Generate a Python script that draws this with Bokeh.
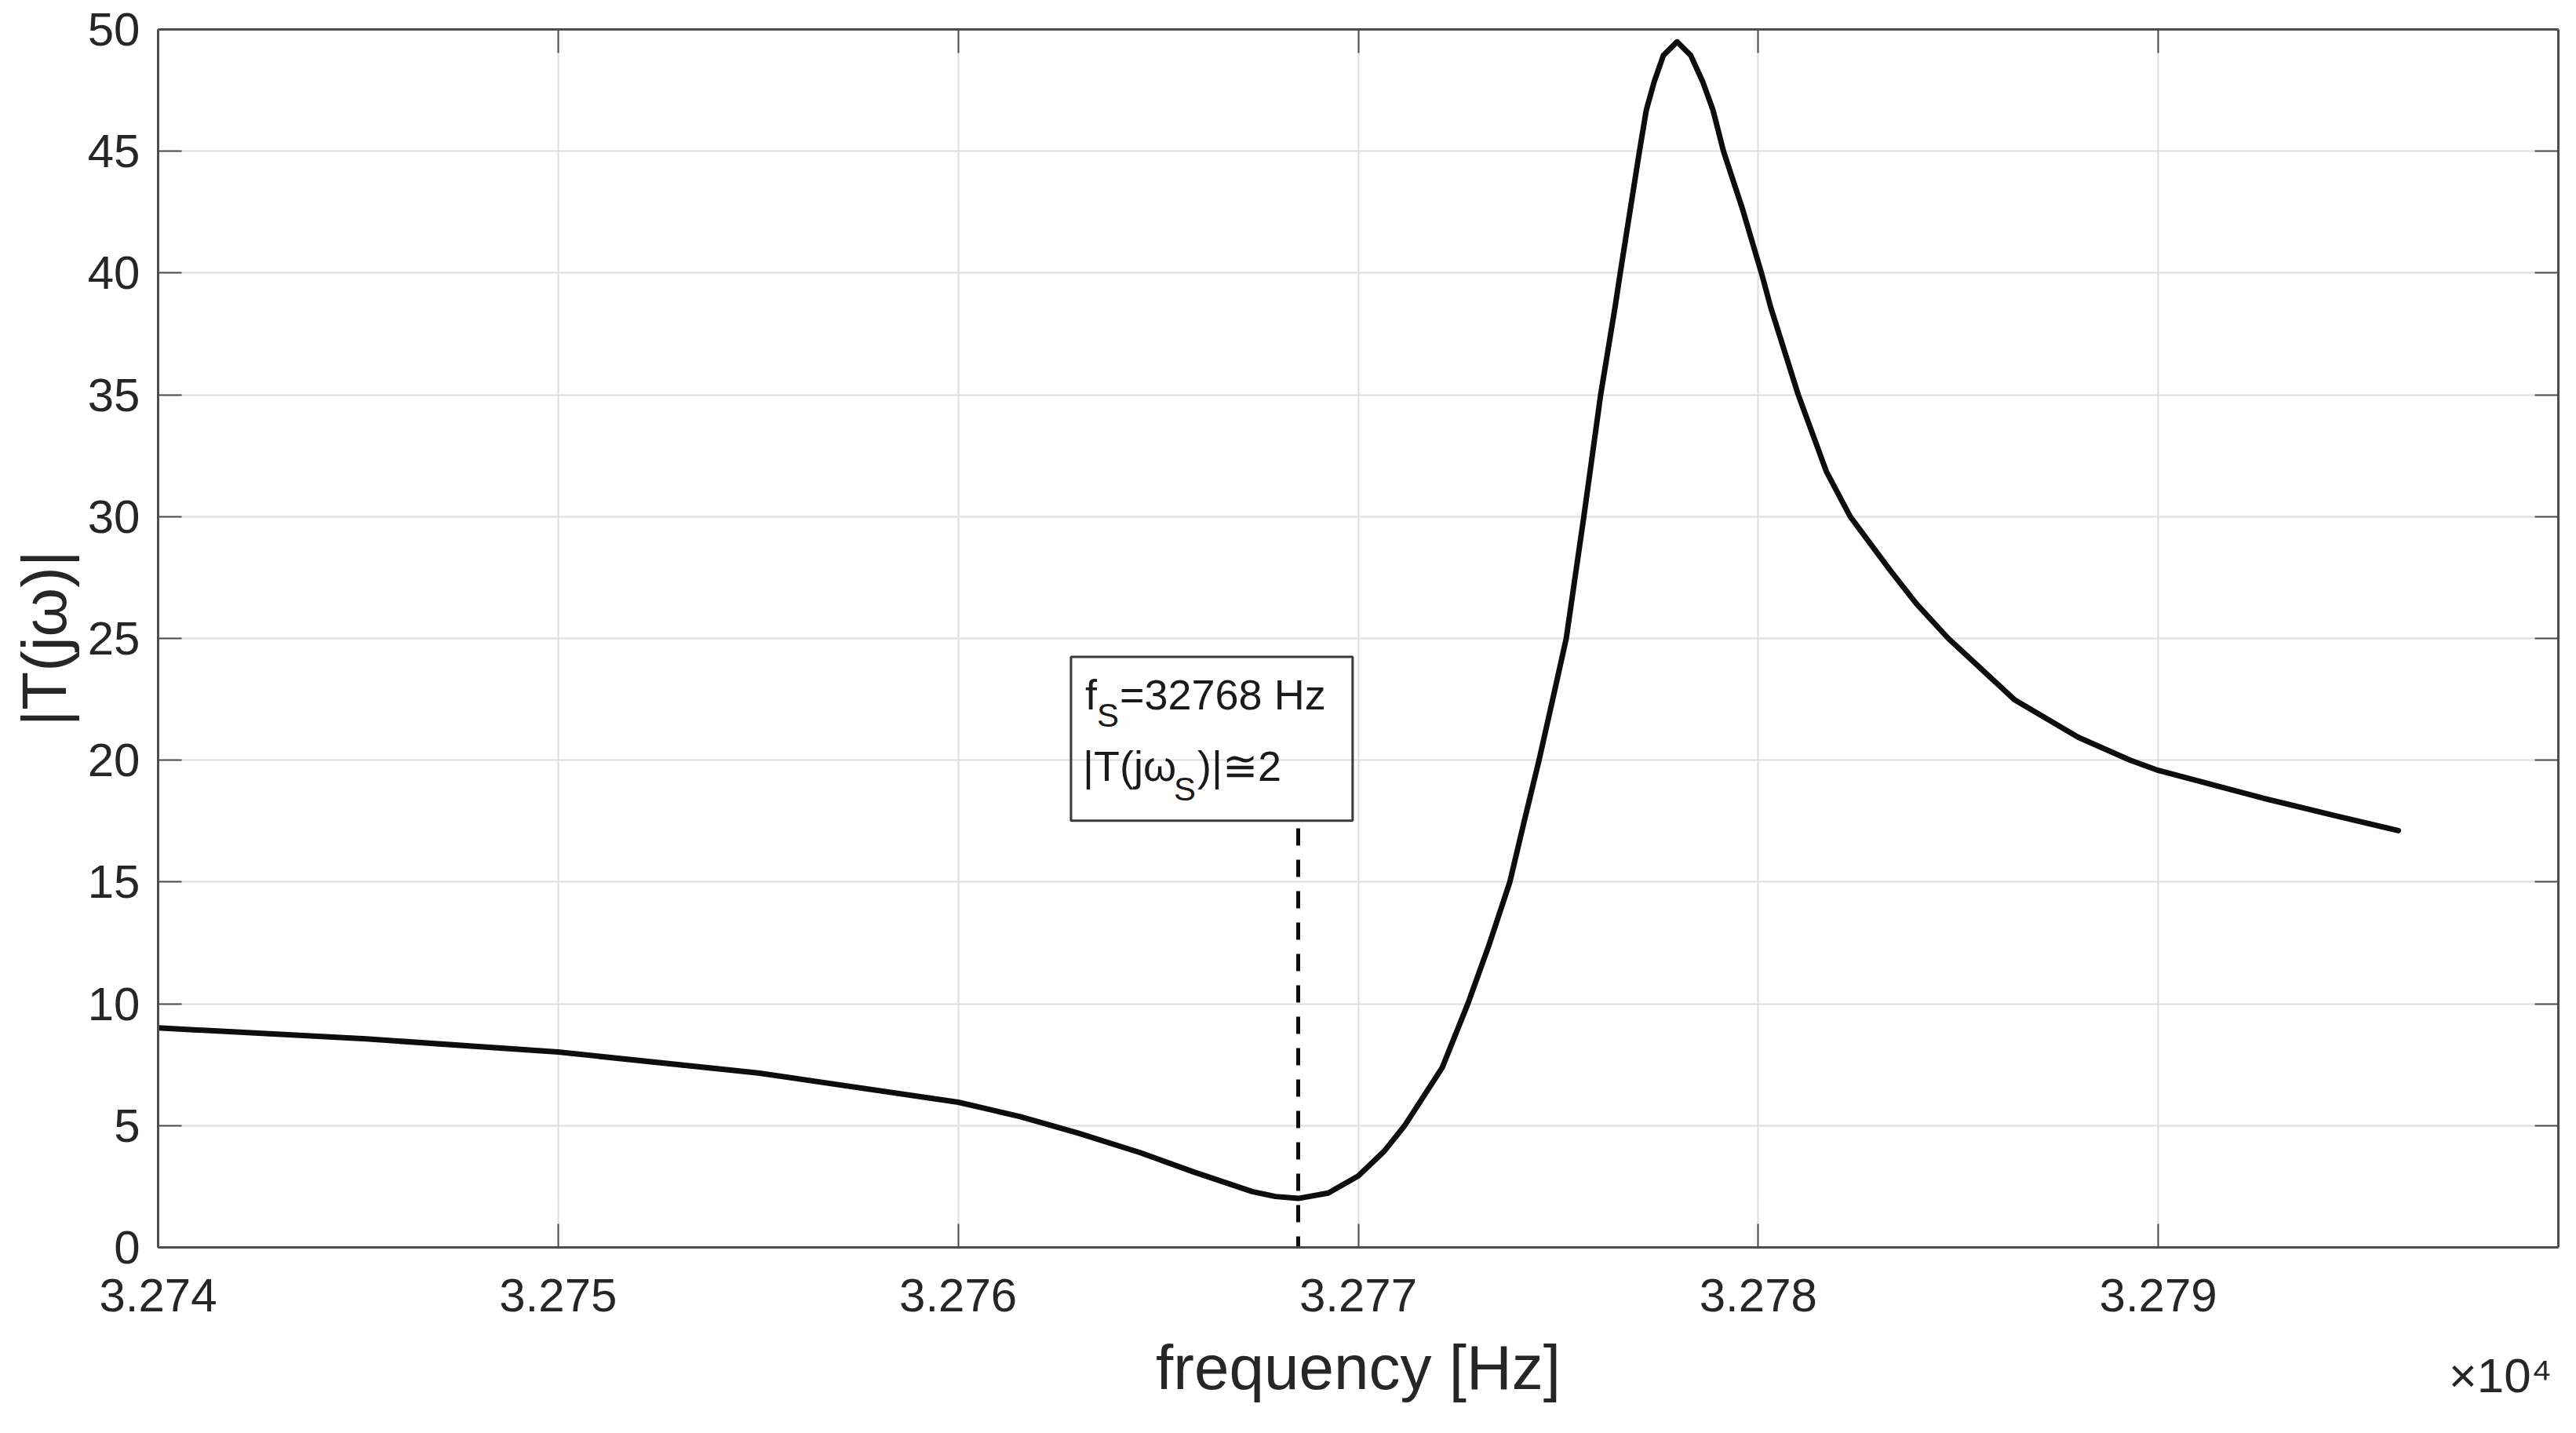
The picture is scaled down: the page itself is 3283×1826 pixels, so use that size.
from bokeh.plotting import figure
from bokeh.models import Range1d, FixedTicker, LinearAxis, Label, ColumnDataSource
from bokeh.embed import file_html
from bokeh.resources import INLINE

# ---------------- data ----------------
freq_hz = [32740.0, 32745.2, 32750.0, 32755.0, 32760.0, 32761.55, 32763.0, 32764.55,
           32765.9, 32767.35, 32767.93, 32768.5, 32769.25, 32770.0, 32770.65, 32771.16,
           32772.1, 32772.74, 32773.26, 32773.79, 32774.14, 32774.52, 32774.86, 32775.2,
           32775.64, 32776.06, 32776.42, 32776.55, 32776.81, 32777.03, 32777.2, 32777.4,
           32777.63, 32777.97, 32778.31, 32778.61, 32778.87, 32779.13, 32779.59, 32780.08,
           32780.31, 32781.0, 32781.7, 32782.3, 32783.3, 32783.95, 32784.75, 32786.4,
           32788.0, 32789.3, 32790.0, 32792.7, 32794.4, 32796.0]
magnitude = [9.01, 8.56, 8.02, 7.16, 5.96, 5.37, 4.69, 3.89,
             3.09, 2.29, 2.09, 2.01, 2.23, 2.93, 3.95, 5.0,
             7.38, 10.0, 12.37, 15.0, 17.43, 20.0, 22.49, 25.0,
             30.0, 35.0, 38.6, 40.0, 42.71, 45.0, 46.68, 47.86,
             48.94, 49.49, 48.94, 47.86, 46.68, 45.0, 42.71, 40.0,
             38.6, 35.0, 31.86, 30.0, 27.79, 26.43, 25.0, 22.49,
             20.94, 20.0, 19.58, 18.41, 17.73, 17.11]

x_ticks = [32740, 32750, 32760, 32770, 32780, 32790]
x_tick_labels = ["3.274", "3.275", "3.276", "3.277", "3.278", "3.279"]
y_ticks = [0, 5, 10, 15, 20, 25, 30, 35, 40, 45, 50]
y_tick_labels = ["0", "5", "10", "15", "20", "25", "30", "35", "40", "45", "50"]
x_multiplier_label = "×10⁴"
x_multiplier_pos = 32798.55   # where the multiplier text is centred

fs_marker_x = 32768.5      # dashed marker frequency
fs_marker_top = 17.2       # dashed marker top value
box_left, box_right = 32762.82, 32769.86
box_bottom, box_top = 17.52, 24.24

FONT = "Liberation Sans"
TXT = "#262626"
AX = "#4d4d4d"

p = figure(width=3280, height=1822,
           x_range=Range1d(32740, 32800), y_range=Range1d(0, 50),
           output_backend="svg", toolbar_location=None,
           min_border_left=201, min_border_right=20,
           min_border_top=37, min_border_bottom=233)
p.background_fill_color = "white"
p.border_fill_color = "white"
p.outline_line_color = None

# grid
p.xgrid.ticker = FixedTicker(ticks=x_ticks)
p.ygrid.ticker = FixedTicker(ticks=y_ticks)
for g in (p.xgrid, p.ygrid):
    g.grid_line_color = "#dedede"
    g.grid_line_width = 2

# axes
def style_axis(ax):
    ax.axis_line_color = AX
    ax.axis_line_width = 3
    ax.major_tick_line_color = AX
    ax.major_tick_line_width = 2
    ax.major_tick_in = 30
    ax.major_tick_out = 0
    ax.minor_tick_line_color = None
    ax.major_label_text_font = FONT
    ax.major_label_text_font_size = "60px"
    ax.major_label_text_color = TXT
    ax.axis_label_text_font = FONT
    ax.axis_label_text_font_size = "80px"
    ax.axis_label_text_font_style = "normal"
    ax.axis_label_text_color = TXT

xa = p.xaxis[0]
xa.ticker = FixedTicker(ticks=x_ticks)
xa.major_label_overrides = {t: l for t, l in zip(x_ticks, x_tick_labels)}
style_axis(xa)
xa.major_label_standoff = 40

# second bottom axis: carries the multiplier (as a tick label) and the axis title
xb = LinearAxis(ticker=FixedTicker(ticks=[x_multiplier_pos]))
style_axis(xb)
xb.axis_line_color = None
xb.major_tick_line_color = None
xb.major_tick_in = 0
xb.major_label_text_font_size = "62px"
xb.major_label_overrides = {x_multiplier_pos: x_multiplier_label}
xb.major_label_standoff = 44
xb.axis_label = "frequency [Hz]"
xb.axis_label_standoff = -92
p.add_layout(xb, "below")

ya = p.yaxis[0]
ya.ticker = FixedTicker(ticks=y_ticks)
ya.major_label_overrides = {t: l for t, l in zip(y_ticks, y_tick_labels)}
style_axis(ya)
ya.axis_label = "|T(jω)|"
ya.major_label_standoff = 23
ya.axis_label_standoff = 8

top_ax = LinearAxis(ticker=FixedTicker(ticks=x_ticks))
style_axis(top_ax)
top_ax.major_label_text_font_size = "0px"
top_ax.major_label_overrides = {t: "" for t in x_ticks}
top_ax.major_label_standoff = 0
p.add_layout(top_ax, "above")

right_ax = LinearAxis(ticker=FixedTicker(ticks=y_ticks))
style_axis(right_ax)
right_ax.major_label_text_font_size = "0px"
right_ax.major_label_overrides = {t: "" for t in y_ticks}
right_ax.major_label_standoff = 0
p.add_layout(right_ax, "right")

# curve
src = ColumnDataSource(data=dict(f=freq_hz, m=magnitude))
p.line("f", "m", source=src, line_width=7, line_color="#0d0d0d",
       line_join="round", line_cap="round")

# dashed marker
p.segment(x0=[fs_marker_x], y0=[fs_marker_top], x1=[fs_marker_x], y1=[0],
          line_dash="22 18", line_width=5, line_color="#0d0d0d")

# annotation box (transparent, drawn as a glyph)
p.quad(left=[box_left], right=[box_right], bottom=[box_bottom], top=[box_top],
       fill_alpha=0, line_color="#3a3a3a", line_width=3)

def lab(text, dx, dy, size):
    p.add_layout(Label(x=box_left, y=box_top, x_offset=dx, y_offset=dy, text=text,
                       text_font=FONT, text_font_size=size, text_color="#1a1a1a",
                       text_align="left", text_baseline="alphabetic"))

lab("f", 18, -48, "54px")
lab("S", 33, -74, "42px")
lab("=32768 Hz", 62, -48, "54px")
lab("|T(jω", 15, -139, "54px")
lab("S", 131, -168, "42px")
lab(")|≅2", 161, -139, "54px")

open("out.html", "w").write(file_html(p, INLINE))
